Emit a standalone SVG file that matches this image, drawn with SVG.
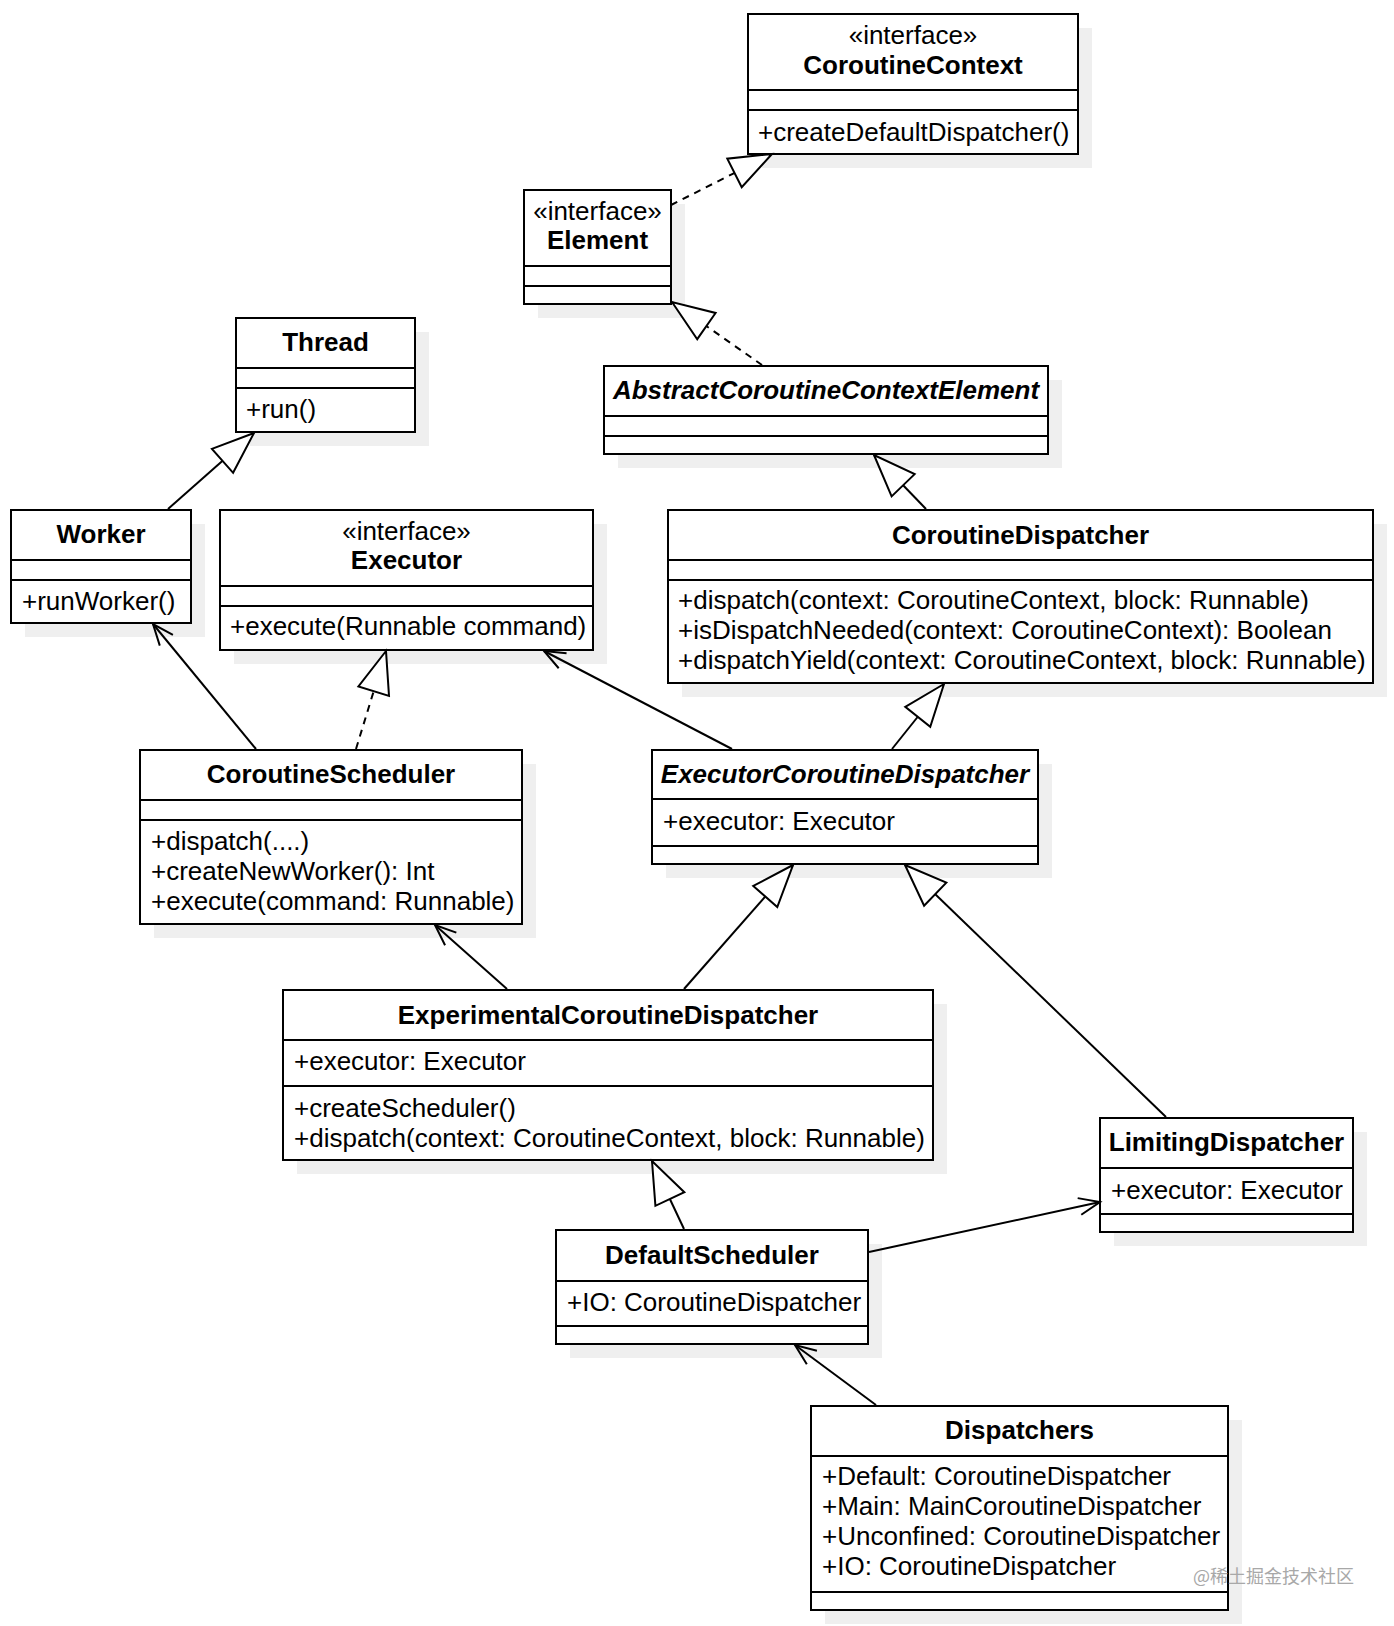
<svg xmlns="http://www.w3.org/2000/svg" width="1394" height="1626" viewBox="0 0 1394 1626">
<style>
.t{font-family:"Liberation Sans",Arial,sans-serif;font-size:26px;fill:#000}
.b{font-weight:bold;text-anchor:middle}
.bi{font-weight:bold;font-style:italic;text-anchor:middle}
.c{text-anchor:middle}
.box{fill:#fff;stroke:#000;stroke-width:2}
.sh{fill:#efefef}
.dv{stroke:#000;stroke-width:2}
.edge{fill:none;stroke:#000;stroke-width:2}
.dash{stroke-dasharray:7 6}
.wm{font-family:"Noto Sans CJK SC","Noto Sans",sans-serif;font-size:18px;fill:#a8a8a8}
</style>
<defs>
<marker id="tri" markerUnits="userSpaceOnUse" viewBox="-46 -20 50 40" refX="0" refY="0" markerWidth="50" markerHeight="40" orient="auto">
<path d="M0,0 L-42,-16 L-42,16 Z" fill="#fff" stroke="#000" stroke-width="2"/>
</marker>
<marker id="open" markerUnits="userSpaceOnUse" viewBox="-26 -12 30 24" refX="0" refY="0" markerWidth="30" markerHeight="24" orient="auto">
<path d="M-21,-8.5 L0,0 L-21,8.5" fill="none" stroke="#000" stroke-width="2"/>
</marker>
</defs>
<rect width="1394" height="1626" fill="#fff"/>

<g id="CoroutineContext">
<rect class="sh" x="762" y="28" width="330" height="140"/>
<rect class="box" x="748" y="14" width="330" height="140"/>
<line class="dv" x1="748" y1="90" x2="1078" y2="90"/>
<line class="dv" x1="748" y1="110" x2="1078" y2="110"/>
<text class="t c" x="913" y="44">«interface»</text>
<text class="t b" x="913" y="73.5">CoroutineContext</text>
<text class="t" x="758" y="140.5">+createDefaultDispatcher()</text>
</g>

<g id="Element">
<rect class="sh" x="538" y="204" width="147" height="114"/>
<rect class="box" x="524" y="190" width="147" height="114"/>
<line class="dv" x1="524" y1="266" x2="671" y2="266"/>
<line class="dv" x1="524" y1="286" x2="671" y2="286"/>
<text class="t c" x="597.5" y="219.5">«interface»</text>
<text class="t b" x="597.5" y="249">Element</text>
</g>

<g id="AbstractCoroutineContextElement">
<rect class="sh" x="618" y="380" width="444" height="88"/>
<rect class="box" x="604" y="366" width="444" height="88"/>
<line class="dv" x1="604" y1="416" x2="1048" y2="416"/>
<line class="dv" x1="604" y1="436" x2="1048" y2="436"/>
<text class="t bi" x="826" y="399">AbstractCoroutineContextElement</text>
</g>

<g id="Thread">
<rect class="sh" x="250" y="332" width="179" height="114"/>
<rect class="box" x="236" y="318" width="179" height="114"/>
<line class="dv" x1="236" y1="368" x2="415" y2="368"/>
<line class="dv" x1="236" y1="388" x2="415" y2="388"/>
<text class="t b" x="325.5" y="351">Thread</text>
<text class="t" x="246" y="418">+run()</text>
</g>

<g id="Worker">
<rect class="sh" x="25" y="524" width="180" height="113"/>
<rect class="box" x="11" y="510" width="180" height="113"/>
<line class="dv" x1="11" y1="560" x2="191" y2="560"/>
<line class="dv" x1="11" y1="580" x2="191" y2="580"/>
<text class="t b" x="101" y="543">Worker</text>
<text class="t" x="22" y="609.5">+runWorker()</text>
</g>

<g id="Executor">
<rect class="sh" x="234" y="524" width="373" height="140"/>
<rect class="box" x="220" y="510" width="373" height="140"/>
<line class="dv" x1="220" y1="586" x2="593" y2="586"/>
<line class="dv" x1="220" y1="606" x2="593" y2="606"/>
<text class="t c" x="406.5" y="539.5">«interface»</text>
<text class="t b" x="406.5" y="569">Executor</text>
<text class="t" x="230" y="635">+execute(Runnable command)</text>
</g>

<g id="CoroutineDispatcher">
<rect class="sh" x="682" y="524" width="705" height="173"/>
<rect class="box" x="668" y="510" width="705" height="173"/>
<line class="dv" x1="668" y1="560" x2="1373" y2="560"/>
<line class="dv" x1="668" y1="580" x2="1373" y2="580"/>
<text class="t b" x="1020.5" y="543.5">CoroutineDispatcher</text>
<text class="t" x="678" y="609">+dispatch(context: CoroutineContext, block: Runnable)</text>
<text class="t" x="678" y="639">+isDispatchNeeded(context: CoroutineContext): Boolean</text>
<text class="t" x="678" y="669">+dispatchYield(context: CoroutineContext, block: Runnable)</text>
</g>

<g id="CoroutineScheduler">
<rect class="sh" x="154" y="764" width="382" height="174"/>
<rect class="box" x="140" y="750" width="382" height="174"/>
<line class="dv" x1="140" y1="800" x2="522" y2="800"/>
<line class="dv" x1="140" y1="820" x2="522" y2="820"/>
<text class="t b" x="331" y="783">CoroutineScheduler</text>
<text class="t" x="151" y="849.5">+dispatch(....)</text>
<text class="t" x="151" y="879.5">+createNewWorker(): Int</text>
<text class="t" x="151" y="909.5">+execute(command: Runnable)</text>
</g>

<g id="ExecutorCoroutineDispatcher">
<rect class="sh" x="666" y="764" width="386" height="114"/>
<rect class="box" x="652" y="750" width="386" height="114"/>
<line class="dv" x1="652" y1="799" x2="1038" y2="799"/>
<line class="dv" x1="652" y1="846" x2="1038" y2="846"/>
<text class="t bi" x="845" y="783">ExecutorCoroutineDispatcher</text>
<text class="t" x="663" y="829.5">+executor: Executor</text>
</g>

<g id="ExperimentalCoroutineDispatcher">
<rect class="sh" x="297" y="1004" width="650" height="170"/>
<rect class="box" x="283" y="990" width="650" height="170"/>
<line class="dv" x1="283" y1="1040" x2="933" y2="1040"/>
<line class="dv" x1="283" y1="1086" x2="933" y2="1086"/>
<text class="t b" x="608" y="1023.5">ExperimentalCoroutineDispatcher</text>
<text class="t" x="294" y="1070">+executor: Executor</text>
<text class="t" x="294" y="1116.5">+createScheduler()</text>
<text class="t" x="294" y="1146.5">+dispatch(context: CoroutineContext, block: Runnable)</text>
</g>

<g id="LimitingDispatcher">
<rect class="sh" x="1114" y="1132" width="253" height="114"/>
<rect class="box" x="1100" y="1118" width="253" height="114"/>
<line class="dv" x1="1100" y1="1168" x2="1353" y2="1168"/>
<line class="dv" x1="1100" y1="1214" x2="1353" y2="1214"/>
<text class="t b" x="1226.5" y="1151">LimitingDispatcher</text>
<text class="t" x="1111" y="1198.5">+executor: Executor</text>
</g>

<g id="DefaultScheduler">
<rect class="sh" x="570" y="1244" width="312" height="114"/>
<rect class="box" x="556" y="1230" width="312" height="114"/>
<line class="dv" x1="556" y1="1281" x2="868" y2="1281"/>
<line class="dv" x1="556" y1="1326" x2="868" y2="1326"/>
<text class="t b" x="712" y="1263.5">DefaultScheduler</text>
<text class="t" x="567" y="1311">+IO: CoroutineDispatcher</text>
</g>

<g id="Dispatchers">
<rect class="sh" x="825" y="1420" width="417" height="204"/>
<rect class="box" x="811" y="1406" width="417" height="204"/>
<line class="dv" x1="811" y1="1456" x2="1228" y2="1456"/>
<line class="dv" x1="811" y1="1592" x2="1228" y2="1592"/>
<text class="t b" x="1019.5" y="1439">Dispatchers</text>
<text class="t" x="822" y="1485">+Default: CoroutineDispatcher</text>
<text class="t" x="822" y="1515">+Main: MainCoroutineDispatcher</text>
<text class="t" x="822" y="1545">+Unconfined: CoroutineDispatcher</text>
<text class="t" x="822" y="1575">+IO: CoroutineDispatcher</text>
</g>

<g id="connectors">
<line class="edge dash" x1="671" y1="205" x2="772" y2="154" marker-end="url(#tri)"/>
<line class="edge dash" x1="762" y1="365" x2="672" y2="302" marker-end="url(#tri)"/>
<line class="edge" x1="926" y1="509" x2="874" y2="455" marker-end="url(#tri)"/>
<line class="edge" x1="168" y1="509" x2="254" y2="433" marker-end="url(#tri)"/>
<line class="edge" x1="256" y1="749" x2="153" y2="624" marker-end="url(#open)"/>
<line class="edge dash" x1="356" y1="749" x2="386" y2="651" marker-end="url(#tri)"/>
<line class="edge" x1="732" y1="749" x2="544" y2="651" marker-end="url(#open)"/>
<line class="edge" x1="892" y1="749" x2="944" y2="684" marker-end="url(#tri)"/>
<line class="edge" x1="684" y1="989" x2="793" y2="865" marker-end="url(#tri)"/>
<line class="edge" x1="1166" y1="1117" x2="905" y2="865" marker-end="url(#tri)"/>
<line class="edge" x1="507" y1="989" x2="435" y2="925" marker-end="url(#open)"/>
<line class="edge" x1="684" y1="1229" x2="652" y2="1161" marker-end="url(#tri)"/>
<line class="edge" x1="869" y1="1252" x2="1100" y2="1202" marker-end="url(#open)"/>
<line class="edge" x1="876" y1="1405" x2="795" y2="1345" marker-end="url(#open)"/>
</g>

<text class="wm" x="1193" y="1583">@稀土掘金技术社区</text>
</svg>
